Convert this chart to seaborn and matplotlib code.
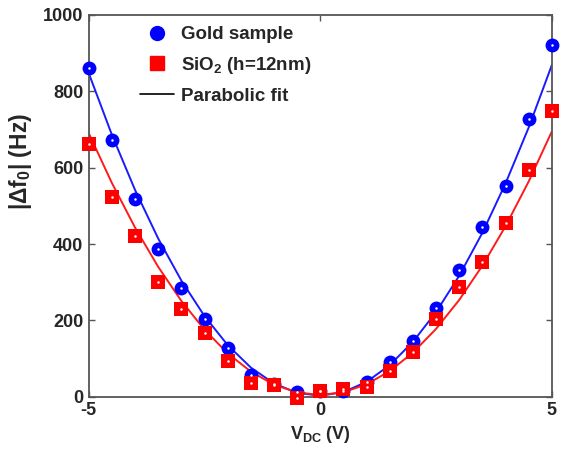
import numpy as np
import pandas as pd
import matplotlib
matplotlib.use("Agg")
import matplotlib.pyplot as plt
import seaborn as sns
from matplotlib.lines import Line2D

# Frequency shift vs. applied DC voltage
v_dc = [-5, -4.5, -4, -3.5, -3, -2.5, -2, -1.5, -1, -0.5, 0,
        0.5, 1, 1.5, 2, 2.5, 3, 3.5, 4, 4.5, 5]
gold = [860, 672, 518, 388, 285, 205, 127, 58, 34, 12, 15,
        15, 40, 92, 145, 232, 333, 445, 553, 728, 922]
sio2 = [662, 523, 421, 302, 230, 168, 93, 37, 30, -3, 15,
        20, 25, 68, 117, 205, 287, 352, 456, 593, 748]

# parabolic fit coefficients (a*V^2 + b*V + c)
gold_fit = [34.2, 2.2, 3.0]
sio2_fit = [27.5, 0.5, 5.0]

x_ticks = [-5, 0, 5]
y_ticks = [0, 200, 400, 600, 800, 1000]

sns.set_style("ticks")
plt.rcParams["font.family"] = ["Liberation Sans", "DejaVu Sans"]
plt.rcParams["font.weight"] = "bold"
plt.rcParams["axes.unicode_minus"] = False
plt.rcParams["mathtext.fontset"] = "custom"
plt.rcParams["mathtext.rm"] = "Liberation Sans:bold"
plt.rcParams["mathtext.bf"] = "Liberation Sans:bold"
plt.rcParams["mathtext.it"] = "Liberation Sans:bold"

df = pd.DataFrame({"V": v_dc, "gold": gold, "sio2": sio2})
df["gold_fit"] = np.polyval(gold_fit, df["V"])
df["sio2_fit"] = np.polyval(sio2_fit, df["V"])

fig = plt.figure(figsize=(5.62, 4.51), dpi=100)
ax = fig.add_axes([0.158, 0.120, 0.824, 0.847])

sns.lineplot(data=df, x="V", y="gold_fit", ax=ax, color="#1a1aff", lw=1.4,
             zorder=2)
sns.lineplot(data=df, x="V", y="sio2_fit", ax=ax, color="#ff1a1a", lw=1.4,
             zorder=2)

sns.scatterplot(data=df, x="V", y="gold", ax=ax, marker="o", s=100,
                color="#0000ff", edgecolor="#0000ff", linewidth=0, zorder=3,
                clip_on=False)
sns.scatterplot(data=df, x="V", y="sio2", ax=ax, marker="s", s=105,
                color="#ff0000", edgecolor="#ff0000", linewidth=0, zorder=3,
                clip_on=False)
# small white centres of the markers
ax.plot(df["V"], df["gold"], ls="none", marker="o", ms=1.8, color="white",
        mec="none", zorder=4, clip_on=False)
ax.plot(df["V"], df["sio2"], ls="none", marker="o", ms=1.8, color="white",
        mec="none", zorder=4, clip_on=False)

ax.set_xlim(-5, 5)
ax.set_ylim(0, 1000)
ax.set_xticks(x_ticks)
ax.set_yticks(y_ticks)
ax.tick_params(direction="in", top=True, right=True, length=4, width=1,
               color="#555555", labelsize=13, pad=4)
for lab in ax.get_xticklabels() + ax.get_yticklabels():
    lab.set_fontweight("bold")
for s in ax.spines.values():
    s.set_color("#555555")
    s.set_linewidth(1.3)

ax.set_xlabel(r"V$_{\mathbf{DC}}$ (V)", fontsize=13, fontweight="bold")
ax.set_ylabel(r"$|\Delta\mathbf{f}_{\mathbf{0}}|$ (Hz)", fontsize=16.5,
              fontweight="bold")
ax.yaxis.set_label_coords(-0.118, 0.615)
ax.xaxis.set_label_coords(0.5, -0.07)

handles = [
    Line2D([], [], marker="o", ls="none", color="#0000ff", ms=10),
    Line2D([], [], marker="s", ls="none", color="#ff0000", ms=9.5),
    Line2D([], [], color="black", lw=1.2),
]
labels = ["Gold sample", r"SiO$_2$ (h=12nm)", "Parabolic fit"]
ax.legend(handles, labels, loc="upper left", bbox_to_anchor=(0.075, 1.015),
          frameon=False, prop={"weight": "bold", "size": 13.5},
          handlelength=1.8, labelspacing=0.62, handletextpad=0.35)

fig.savefig("out.png", dpi=100, facecolor="white")
